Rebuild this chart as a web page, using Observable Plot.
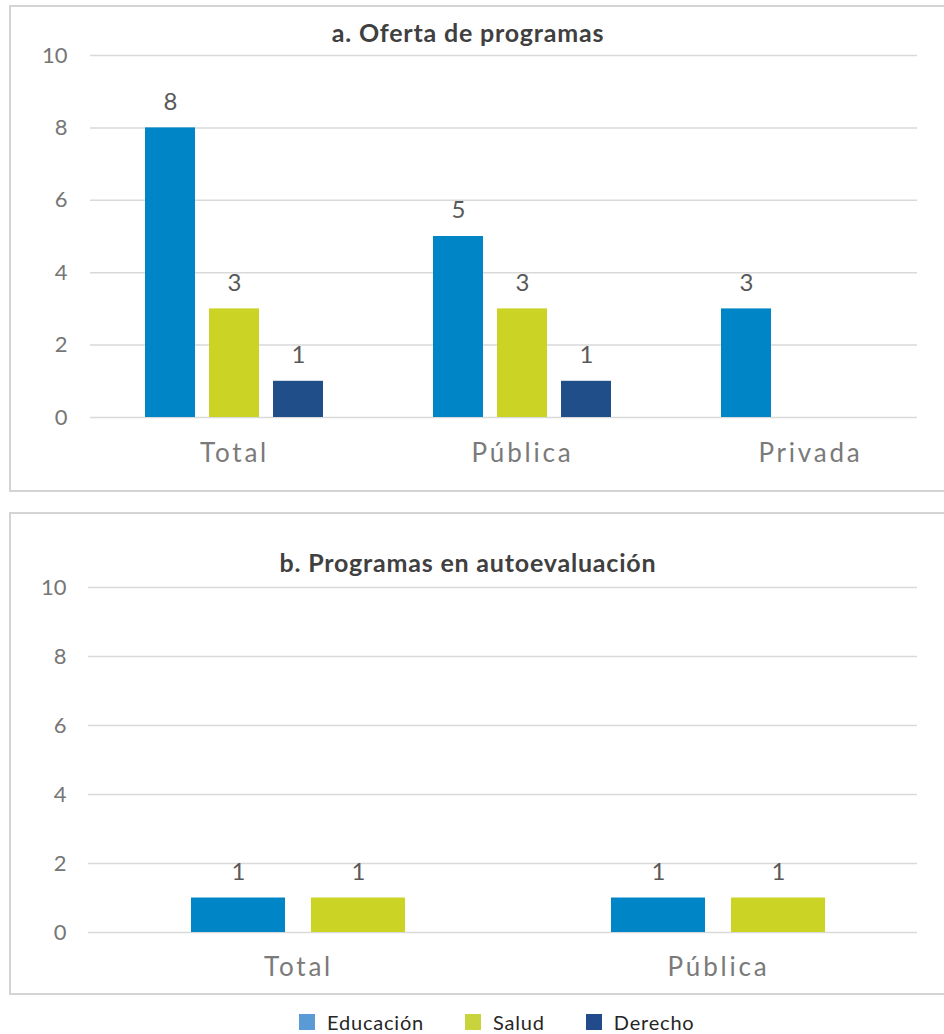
<!DOCTYPE html>
<html><head><meta charset="utf-8">
<script src="https://cdn.jsdelivr.net/npm/d3@7"></script>
<script src="https://cdn.jsdelivr.net/npm/@observablehq/plot@0.6"></script>
<style>
body{margin:0;background:#fff;font-family:Lato, sans-serif;}
#page{position:relative;width:944px;height:1034px;overflow:hidden;}
.panel{position:absolute;left:9px;width:945px;border:2px solid #d4d4d4;box-sizing:border-box;}
.title{position:absolute;left:0;width:936px;text-align:center;font-weight:bold;font-size:25px;letter-spacing:0.8px;line-height:28px;color:#404040;}
.chart{position:absolute;left:0;}
g[aria-label="fx-axis tick label"] text{letter-spacing:2.8px;}
.legend{position:absolute;left:299px;top:1012px;display:flex;gap:41px;font-size:20px;letter-spacing:0.8px;color:#262626;line-height:20px;}
.legend .item{display:flex;align-items:center;}
.legend .sw{width:16px;height:16px;margin-right:12px;}
</style></head><body><div id="page"></div>
<script>
const series = ["Educación", "Salud", "Derecho"];
const barColors = ["#0086c6", "#cbd324", "#1f4e89"];
const legendColors = ["#5b9bd5", "#c9d33c", "#224b8b"];

const titleA = "a. Oferta de programas";
const categoriesA = ["Total", "Pública", "Privada"];
const educacionA = [8, 5, 3];
const saludA = [3, 3, null];
const derechoA = [1, 1, null];

const titleB = "b. Programas en autoevaluación";
const categoriesB = ["Total", "Pública"];
const educacionB = [1, 1];
const saludB = [1, 1];

const yTicks = [0, 2, 4, 6, 8, 10];

function tidy(cats, lists, names) {
  const rows = [];
  lists.forEach((vals, si) => {
    vals.forEach((v, ci) => {
      if (v != null) rows.push({cat: cats[ci], series: names[si], value: v});
    });
  });
  return rows;
}

const rowsA = tidy(categoriesA, [educacionA, saludA, derechoA], series);
const rowsB = tidy(categoriesB, [educacionB, saludB], series.slice(0, 2));

const page = document.getElementById("page");

function addPanel(top, height) {
  const d = document.createElement("div");
  d.className = "panel";
  d.style.top = top + "px";
  d.style.height = height + "px";
  page.appendChild(d);
}
function addTitle(text, top) {
  const d = document.createElement("div");
  d.className = "title";
  d.style.top = top + "px";
  d.textContent = text;
  page.appendChild(d);
}

function makeChart(cats, rows, seriesDomain, o) {
  return Plot.plot({
    width: 917,
    height: o.height,
    marginTop: o.mt,
    marginBottom: o.mb,
    marginLeft: o.fxRange[0],
    marginRight: 0,
    style: {background: "transparent", overflow: "hidden", fontFamily: "Lato, sans-serif"},
    y: {domain: [0, 10], ticks: yTicks},
    fx: {domain: cats, range: o.fxRange, paddingInner: 0, paddingOuter: 0, label: null},
    x: {domain: seriesDomain, paddingInner: 0.22, paddingOuter: 0.86, axis: null},
    color: {domain: series, range: barColors},
    marks: [
      Plot.gridY(yTicks, {stroke: "#d9d9d9", strokeOpacity: 1, strokeWidth: 1.5}),
      Plot.barY(rows, {fx: "cat", x: "series", y: "value", fill: "series"}),
      Plot.text(rows, {fx: "cat", x: "series", y: "value", text: d => String(d.value), dy: -26, fontSize: 24, fill: "#595959"}),
      Plot.axisY(yTicks, {tickSize: 0, tickPadding: o.ytp, fontSize: 22, color: "#767676", label: null}),
      Plot.axisFx({anchor: "bottom", tickSize: 0, tickPadding: o.fxtp, fontSize: 26, color: "#7a7a7a", label: null})
    ]
  });
}

addPanel(5, 487);
addPanel(512, 483);

const ca = makeChart(categoriesA, rowsA, series, {height: 485, mt: 55, mb: 68, fxRange: [90, 954], ytp: 23, fxtp: 26});
ca.classList.add("chart");
ca.style.top = "0px";
page.appendChild(ca);

const cb = makeChart(categoriesB, rowsB, series.slice(0, 2), {height: 480, mt: 74, mb: 61, fxRange: [87, 928], ytp: 22, fxtp: 25});
cb.classList.add("chart");
cb.style.top = "513px";
page.appendChild(cb);

addTitle(titleA, 18);
addTitle(titleB, 548);

const legend = document.createElement("div");
legend.className = "legend";
series.forEach((s, i) => {
  const it = document.createElement("div");
  it.className = "item";
  const sw = document.createElement("div");
  sw.className = "sw";
  sw.style.background = legendColors[i];
  const tx = document.createElement("span");
  tx.textContent = s;
  it.appendChild(sw);
  it.appendChild(tx);
  legend.appendChild(it);
});
page.appendChild(legend);
</script>
</body></html>
